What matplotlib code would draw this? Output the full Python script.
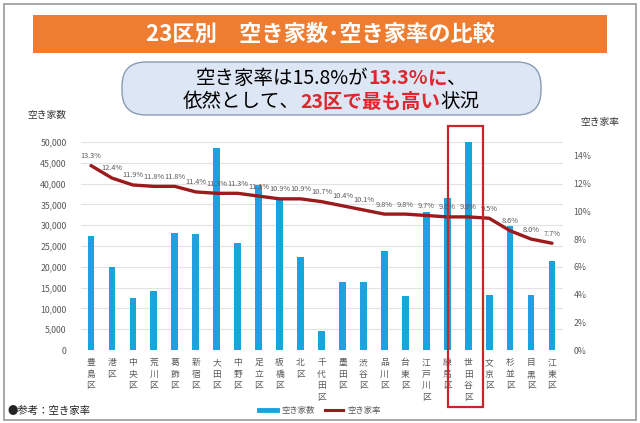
import matplotlib
matplotlib.use("Agg")
import matplotlib.pyplot as plt
from matplotlib.lines import Line2D
from matplotlib.patches import Rectangle, FancyBboxPatch
from matplotlib.text import Annotation

plt.rcParams["font.family"] = ["Noto Sans CJK JP", "DejaVu Sans"]

# data
wards = ["豊島区", "港区", "中央区", "荒川区", "葛飾区", "新宿区", "大田区", "中野区",
         "足立区", "板橋区", "北区", "千代田区", "墨田区", "渋谷区", "品川区", "台東区",
         "江戸川区", "練馬区", "世田谷区", "文京区", "杉並区", "目黒区", "江東区"]
vacant_houses = [27500, 20000, 12600, 14100, 28100, 28000, 48600, 25800, 39600, 36400,
                 22300, 4500, 16300, 16300, 23900, 12900, 33200, 36600, 50000, 13200,
                 29900, 13200, 21300]
vacancy_rate = [13.3, 12.4, 11.9, 11.8, 11.8, 11.4, 11.3, 11.3, 11.1, 10.9, 10.9, 10.7,
                10.4, 10.1, 9.8, 9.8, 9.7, 9.6, 9.6, 9.5, 8.6, 8.0, 7.7]
left_ticks = list(range(0, 50001, 5000))
right_ticks = list(range(0, 15, 2))
highlight = "世田谷区"

BLUE = "#1ca2dc"
RED = "#9c1a1c"
GRAY = "#595959"

fig = plt.figure(figsize=(6.4, 4.23), dpi=100)
W, H = 640, 423


def fx(px):
    return px / W


def fy(py):
    return 1 - py / H


# outer frame
fig.patches.append(Rectangle((fx(4), fy(420)), fx(632), 416 / H, transform=fig.transFigure,
                             fill=False, ec="#9a9a9a", lw=1.2))

# orange banner
fig.patches.append(Rectangle((fx(33), fy(53)), fx(574), 38 / H, transform=fig.transFigure,
                             fc="#ee7d31", ec="none"))
fig.text(fx(320), fy(34), "23区別　空き家数･空き家率の比較", color="white",
         fontsize=16, fontweight="bold", ha="center", va="center")

# rounded message box
fig.patches.append(FancyBboxPatch((fx(122), fy(115)), fx(419), 53 / H,
                                  boxstyle=f"round,pad=0,rounding_size={24 / W}",
                                  mutation_aspect=W / H,
                                  transform=fig.transFigure, fc="#dce6f4", ec="#8a9bb3", lw=1))


def rich_line(parts, y, size=14):
    first = None
    last = None
    for txt, col, bold in parts:
        weight = "bold" if bold else "normal"
        if last is None:
            last = fig.text(0.5, y, txt, color=col, fontsize=size, fontweight=weight,
                            va="bottom", ha="left")
            first = last
        else:
            last = fig.add_artist(Annotation(txt, xy=(1, 0), xycoords=last, va="bottom",
                                             ha="left", color=col, fontsize=size,
                                             fontweight=weight))
    return first, last


r1 = rich_line([("空き家率は15.8%が", "black", False), ("13.3%", "#e0262e", True),
                ("に", "#e0262e", True), ("、", "black", False)], fy(88.5))
r2 = rich_line([("依然として、", "black", False), ("23区で最も高い", "#e0262e", True),
                ("状況", "black", False)], fy(112))

# chart
ax = fig.add_axes([fx(80.5), fy(350), fx(482), 208 / H])
x = list(range(len(wards)))
ax.bar(x, vacant_houses, width=0.32, color=BLUE, zorder=2)
ax.set_xlim(-0.5, len(wards) - 0.5)
ax.set_ylim(0, 50000)
ax.set_yticks(left_ticks)
ax.set_yticklabels([f"{v:,}" for v in left_ticks])
ax.grid(axis="y", color="#e3e3e3", lw=0.8, zorder=0)
ax.set_xticks(x)
ax.set_xticklabels(["\n".join(w) for w in wards], fontsize=6.3, color=GRAY,
                   linespacing=1.35, va="top")
ax.tick_params(axis="both", length=0, labelsize=6.3, labelcolor=GRAY)
ax.tick_params(axis="x", pad=6)
ax.tick_params(axis="y", pad=10)
for s in ax.spines.values():
    s.set_visible(False)

ax2 = ax.twinx()
ax2.plot(x, vacancy_rate, color=RED, lw=2.4, solid_capstyle="round", zorder=3)
for xi, v in zip(x, vacancy_rate):
    ax2.annotate(f"{v}%", (xi, v), xytext=(0, 4), textcoords="offset points",
                 ha="center", va="bottom", fontsize=5.3, color=GRAY)
ax2.set_ylim(0, 15)
ax2.set_yticks(right_ticks)
ax2.set_yticklabels([f"{v}%" for v in right_ticks])
ax2.tick_params(axis="y", length=0, labelsize=6.3, labelcolor=GRAY, pad=8)
for s in ax2.spines.values():
    s.set_visible(False)

# highlight box around setagaya
hi = wards.index(highlight)
ax2.add_patch(Rectangle((hi - 0.95, -0.275), 1.65, 1.35, transform=ax.get_xaxis_transform(),
                        fill=False, ec="#c9262c", lw=1.6, clip_on=False, zorder=5))

# axis titles
fig.text(fx(27), fy(115), "空き家数", fontsize=7, color="#333333", ha="left", va="center")
fig.text(fx(600), fy(122), "空き家率", fontsize=7, color="#333333", ha="center", va="center")

# legend and note
handles = [Line2D([], [], color=BLUE, lw=3.5), Line2D([], [], color=RED, lw=2.2)]
fig.legend(handles, ["空き家数", "空き家率"], loc="center", bbox_to_anchor=(fx(320), fy(410)),
           ncol=2, frameon=False, fontsize=6, handlelength=2.2, handletextpad=0.5,
           columnspacing=1.2, labelcolor=GRAY)
fig.text(fx(8), fy(411), "●参考：空き家率", fontsize=7.5, color="#222222", ha="left", va="center")

# center the rich lines inside the box
fig.canvas.draw()
renderer = fig.canvas.get_renderer()
for first, last in (r1, r2):
    b0 = first.get_window_extent(renderer)
    b1 = last.get_window_extent(renderer)
    first.set_x(fx(331) - (b1.x1 - b0.x0) / 2 / W)

fig.savefig("out.png", dpi=100)
